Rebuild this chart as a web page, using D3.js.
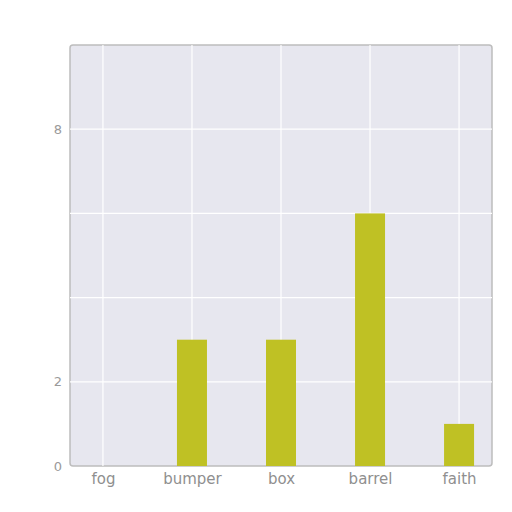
<!DOCTYPE html>
<html>
<head>
<meta charset="utf-8">
<script src="https://cdn.jsdelivr.net/npm/d3@7"></script>
<style>
  body { margin: 0; background: #fff; }
</style>
</head>
<body>
<div id="chart"></div>
<script>
const categories = ['fog', 'bumper', 'box', 'barrel', 'faith']
const values = [0, 3, 3, 6, 1]
const gridValues = [0, 2, 4, 6, 8]
const tickLabels = [0, 2, 8]

const config = {
    width: 512,
    height: 512,
    margin: { left: 70, right: 20, top: 45, bottom: 46 },
    barWidth: 30,
}

const inner = {
    width: config.width - config.margin.left - config.margin.right,
    height: config.height - config.margin.top - config.margin.bottom,
}

const svg = d3.select('#chart')
    .append('svg')
    .attr('width', config.width)
    .attr('height', config.height)

const root = svg.append('g')
    .attr('transform', `translate(${config.margin.left}, ${config.margin.top})`)

const scaleX = d3.scalePoint()
    .domain(categories)
    .range([0, inner.width])
    .padding(0.37)

const scaleY = d3.scaleLinear()
    .domain([0, 10])
    .range([inner.height, 0])

// panel
root.append('rect')
    .attr('width', inner.width)
    .attr('height', inner.height)
    .attr('rx', 3)
    .attr('fill', '#e7e7ef')
    .attr('stroke', '#bdbdbd')
    .attr('stroke-width', 1.5)

// grid
root.append('g')
    .selectAll('line.h')
    .data(gridValues.filter(v => v > 0))
    .join('line')
    .attr('x1', 0)
    .attr('x2', inner.width)
    .attr('y1', d => scaleY(d))
    .attr('y2', d => scaleY(d))
    .attr('stroke', '#fff')
    .attr('stroke-width', 1.2)

root.append('g')
    .selectAll('line.v')
    .data(categories)
    .join('line')
    .attr('x1', d => scaleX(d))
    .attr('x2', d => scaleX(d))
    .attr('y1', 0)
    .attr('y2', inner.height)
    .attr('stroke', '#fff')
    .attr('stroke-width', 1.2)

// bars
root.append('g')
    .selectAll('rect')
    .data(categories.map((c, i) => ({ c, v: values[i] })))
    .join('rect')
    .attr('x', d => scaleX(d.c) - config.barWidth / 2)
    .attr('y', d => scaleY(d.v))
    .attr('width', config.barWidth)
    .attr('height', d => inner.height - scaleY(d.v))
    .attr('fill', '#bfc124')

// axes
const yAxis = root.append('g')
    .call(d3.axisLeft(scaleY).tickValues(tickLabels).tickSize(0).tickPadding(8))
yAxis.select('.domain').remove()
yAxis.selectAll('text')
    .attr('fill', '#9a9a9a')
    .attr('font-size', 13)
    .attr('font-family', 'DejaVu Sans')

const xAxis = root.append('g')
    .attr('transform', `translate(0, ${inner.height})`)
    .call(d3.axisBottom(scaleX).tickSize(0).tickPadding(7))
xAxis.select('.domain').remove()
xAxis.selectAll('text')
    .attr('fill', '#8f8f8f')
    .attr('font-size', 15)
    .attr('font-family', 'DejaVu Sans')
</script>
</body>
</html>
